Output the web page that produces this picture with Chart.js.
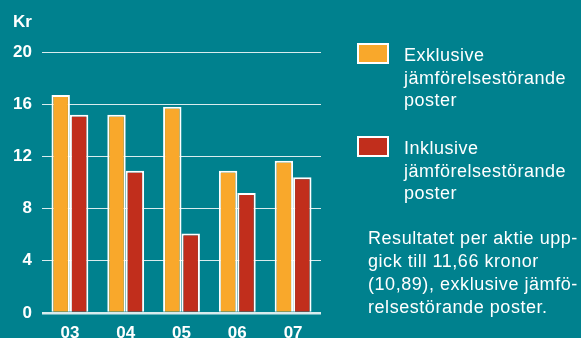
<!DOCTYPE html>
<html>
<head>
<meta charset="utf-8">
<script src="https://cdn.jsdelivr.net/npm/chart.js@4.4.0/dist/chart.umd.min.js"></script>
<style>
  html, body { margin: 0; padding: 0; }
  body { width: 581px; height: 338px; background: #00818e; overflow: hidden; position: relative;
         font-family: "Liberation Sans", Arial, sans-serif; color: #fff; }
  #wrap { position: absolute; left: 0; top: 0; width: 581px; height: 338px; }
  .leg { position: absolute; left: 357px; width: 224px; }
  .leg .box { position: absolute; left: 0; top: 0; width: 28px; height: 17px; border: 2px solid #fff; }
  .leg .txt { position: absolute; left: 47px; top: 1px; width: 178px; font-size: 18px; line-height: 22.5px; letter-spacing: 0.5px; }
  #note { position: absolute; left: 368px; top: 227px; font-size: 18px; line-height: 23px; letter-spacing: 0.55px; white-space: nowrap; }
</style>
</head>
<body>
<div id="wrap"><canvas id="grafica" width="581" height="338"></canvas></div>
<div class="leg" id="leg0" style="top:43px"></div>
<div class="leg" id="leg1" style="top:136px"></div>
<div id="note">Resultatet per aktie upp-<br>gick till 11,66 kronor<br>(10,89), exklusive jämfö-<br>relsestörande poster.</div>
<script>
const aar = ['03', '04', '05', '06', '07'];
const exklusive = [16.7, 15.2, 15.8, 10.9, 11.66];
const inklusive = [15.2, 10.9, 6.1, 9.2, 10.4];
const serieNamn = ['Exklusive jämförelsestörande poster', 'Inklusive jämförelsestörande poster'];
const farger = ['#f9a82b', '#c12e1c'];
const yTicks = [0, 4, 8, 12, 16, 20];

// legend i html
[0, 1].forEach(i => {
  let el = document.getElementById('leg' + i);
  el.innerHTML = '<div class="box" style="background:' + farger[i] + '"></div><div class="txt">' + serieNamn[i] + '</div>';
});

const krEtikett = {
  id: 'krEtikett',
  afterDraw(chart) {
    let c = chart.ctx;
    c.save();
    c.fillStyle = '#fff';
    c.font = 'bold 17px "Liberation Sans", Arial, sans-serif';
    c.textBaseline = 'alphabetic';
    c.textAlign = 'left';
    c.fillText('Kr', 13, 26.7);
    c.restore();
  }
};

let canvas_graf = document.getElementById('grafica');
new Chart(canvas_graf, {
  type: 'bar',
  data: {
    labels: aar,
    datasets: [{
      label: serieNamn[0],
      data: exklusive,
      backgroundColor: farger[0],
      borderColor: '#fff',
      borderWidth: 2
    }, {
      label: serieNamn[1],
      data: inklusive,
      backgroundColor: farger[1],
      borderColor: '#fff',
      borderWidth: 2
    }]
  },
  options: {
    responsive: false,
    animation: false,
    layout: { padding: { left: 13, top: 52, right: 260, bottom: 0 } },
    datasets: { bar: { categoryPercentage: 0.66, barPercentage: 1 } },
    scales: {
      x: {
        afterFit: axis => { axis.height = 25; },
        grid: { display: false },
        border: { display: false },
        ticks: { color: '#fff', padding: 2, font: { family: '"Liberation Sans", Arial, sans-serif', size: 17, weight: 'bold' } }
      },
      y: {
        min: 0,
        max: 20,
        afterFit: axis => { axis.width = 29; },
        afterBuildTicks: axis => { axis.ticks = yTicks.map(v => ({ value: v })); },
        grid: {
          drawTicks: false,
          color: 'rgba(255,255,255,0.85)',
          lineWidth: ctx => ctx.tick && ctx.tick.value === 0 ? 2.5 : 1
        },
        border: { display: false },
        ticks: { color: '#fff', padding: 10, font: { family: '"Liberation Sans", Arial, sans-serif', size: 17, weight: 'bold' } }
      }
    },
    plugins: {
      legend: { display: false },
      tooltip: { enabled: false }
    }
  },
  plugins: [krEtikett]
});
</script>
</body>
</html>
